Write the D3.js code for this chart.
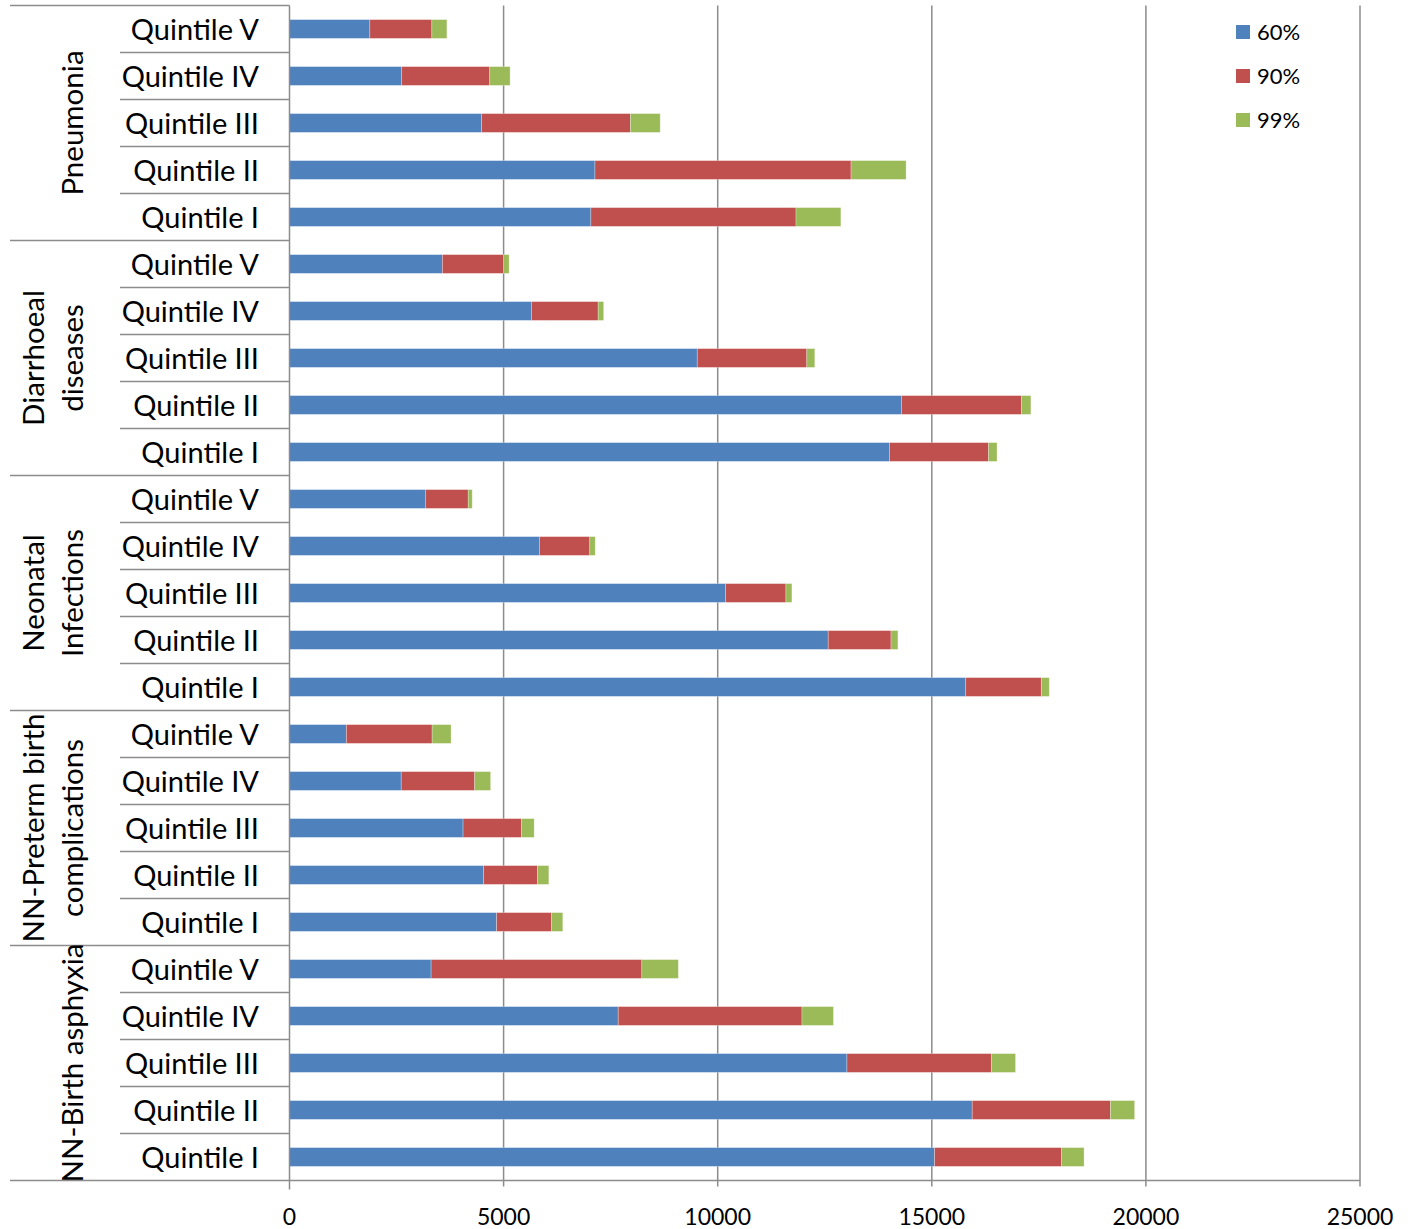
<!DOCTYPE html>
<html><head><meta charset="utf-8">
<script src="https://cdn.jsdelivr.net/npm/d3@7"></script>
<style>body{margin:0;background:#fff}svg{display:block}</style>
</head><body>
<svg id="c" width="1408" height="1229"></svg>
<script>
const groups = ["Pneumonia","Diarrhoeal diseases","Neonatal Infections","NN-Preterm birth complications","NN-Birth asphyxia"];
const groupLines = [["Pneumonia"],["Diarrhoeal","diseases"],["Neonatal","Infections"],["NN-Preterm birth","complications"],["NN-Birth asphyxia"]];
const quintiles = ["Quintile V","Quintile IV","Quintile III","Quintile II","Quintile I"];
const seriesNames = ["60%","90%","99%"];
const seriesColors = ["#4F81BD","#C0504D","#9BBB59"];
const xTicks = [0,5000,10000,15000,20000,25000];
// segment values per row (group order, quintile V..I)
const v60 = [1876,2619,4486,7133,7038, 3570,5651,9523,14291,14012, 3174,5837,10186,12581,15791, 1328,2609,4053,4534,4837, 3307,7677,13018,15944,15065];
const v90 = [1448,2057,3476,5981,4791, 1430,1558,2558,2802,2314, 1000,1175,1407,1466,1767, 2003,1716,1366,1258,1281, 4921,4291,3373,3229,2966];
const v99 = [352,476,695,1286,1047, 128,128,186,221,197, 93,128,140,162,186, 442,372,295,264,264, 853,735,564,564,525];

(function(){
const svg = d3.select("#c");
const yTop = 5.5, yBot = 1180.5, x0 = 289.5, x1 = 1360;
const rows = [];
groups.forEach((g,gi)=>quintiles.forEach((q,qi)=>{
  const i = gi*5+qi;
  rows.push({key:g+"|"+q, group:g, gi, q, vals:[v60[i],v90[i],v99[i]]});
}));
const y = d3.scaleBand().domain(rows.map(r=>r.key)).range([yTop,yBot]).paddingInner(0.6).paddingOuter(0.3);
const x = d3.scaleLinear().domain([0,25000]).range([x0,x1]);
const grid = "#8c8c8c";
const font = "Lato, 'Open Sans', sans-serif";

// gridlines
svg.append("g").selectAll("line").data(xTicks.slice(1)).join("line")
  .attr("x1",d=>x(d)).attr("x2",d=>x(d)).attr("y1",yTop).attr("y2",yBot+6)
  .attr("stroke",grid).attr("stroke-width",1.5);

// stacked bars
const stackData = rows.map(r=>({key:r.key, s0:r.vals[0], s1:r.vals[1], s2:r.vals[2]}));
const stack = d3.stack().keys(["s0","s1","s2"])(stackData);
svg.append("g").selectAll("g").data(stack).join("g")
  .attr("fill",(d,i)=>seriesColors[i])
  .selectAll("rect").data(d=>d).join("rect")
  .attr("x",d=>x(d[0])).attr("width",d=>x(d[1])-x(d[0]))
  .attr("y",d=>y(d.data.key)).attr("height",y.bandwidth())
  .attr("stroke","#ffffff").attr("stroke-opacity",0.35).attr("stroke-width",0.8);

// axes lines
svg.append("line").attr("x1",x0).attr("x2",x0).attr("y1",yTop).attr("y2",yBot+9).attr("stroke",grid).attr("stroke-width",1.5);
svg.append("line").attr("x1",10).attr("x2",x1).attr("y1",yBot).attr("y2",yBot).attr("stroke",grid).attr("stroke-width",1.5);
svg.append("line").attr("x1",10).attr("x2",x0).attr("y1",yTop).attr("y2",yTop).attr("stroke",grid).attr("stroke-width",1.5);

// row separators in label area
const step = y.step();
rows.forEach((r,i)=>{
  if(i===0) return;
  const yy = y(r.key) - (step - y.bandwidth())/2;
  const isGroup = i%5===0;
  svg.append("line").attr("x1",isGroup?10:120).attr("x2",x0).attr("y1",yy).attr("y2",yy)
    .attr("stroke",grid).attr("stroke-width",1.5);
});

// quintile labels
svg.append("g").selectAll("text").data(rows).join("text")
  .attr("x",259).attr("y",d=>y(d.key)+y.bandwidth()/2+1).attr("dy","0.35em")
  .attr("text-anchor","end").attr("font-family",font).attr("font-size",29).attr("fill","#000")
  .text(d=>d.q);

// group labels
groups.forEach((g,gi)=>{
  const keys = rows.filter(r=>r.gi===gi).map(r=>r.key);
  const cy = (y(keys[0]) + y(keys[4]) + y.bandwidth())/2;
  const lines = groupLines[gi];
  const xs = lines.length===1 ? [73] : [34,73];
  lines.forEach((ln,li)=>{
    svg.append("text").attr("transform",`translate(${xs[li]},${cy}) rotate(-90)`)
      .attr("dy","0.35em").attr("text-anchor","middle").attr("font-family",font).attr("font-size",29.5)
      .attr("fill","#000").text(ln);
  });
});

// x tick labels
svg.append("g").selectAll("text").data(xTicks).join("text")
  .attr("x",d=>x(d)).attr("y",1225).attr("text-anchor","middle")
  .attr("font-family",font).attr("font-size",23).attr("fill","#000").text(d=>d);

// legend
const lg = svg.append("g").selectAll("g").data(seriesNames).join("g")
  .attr("transform",(d,i)=>`translate(1236,${25+i*44})`);
lg.append("rect").attr("width",14).attr("height",14).attr("fill",(d,i)=>seriesColors[i]);
lg.append("text").attr("x",21).attr("y",7).attr("dy","0.35em").attr("font-family",font).attr("font-size",22).attr("fill","#000").text(d=>d);
})();
</script>
</body></html>
